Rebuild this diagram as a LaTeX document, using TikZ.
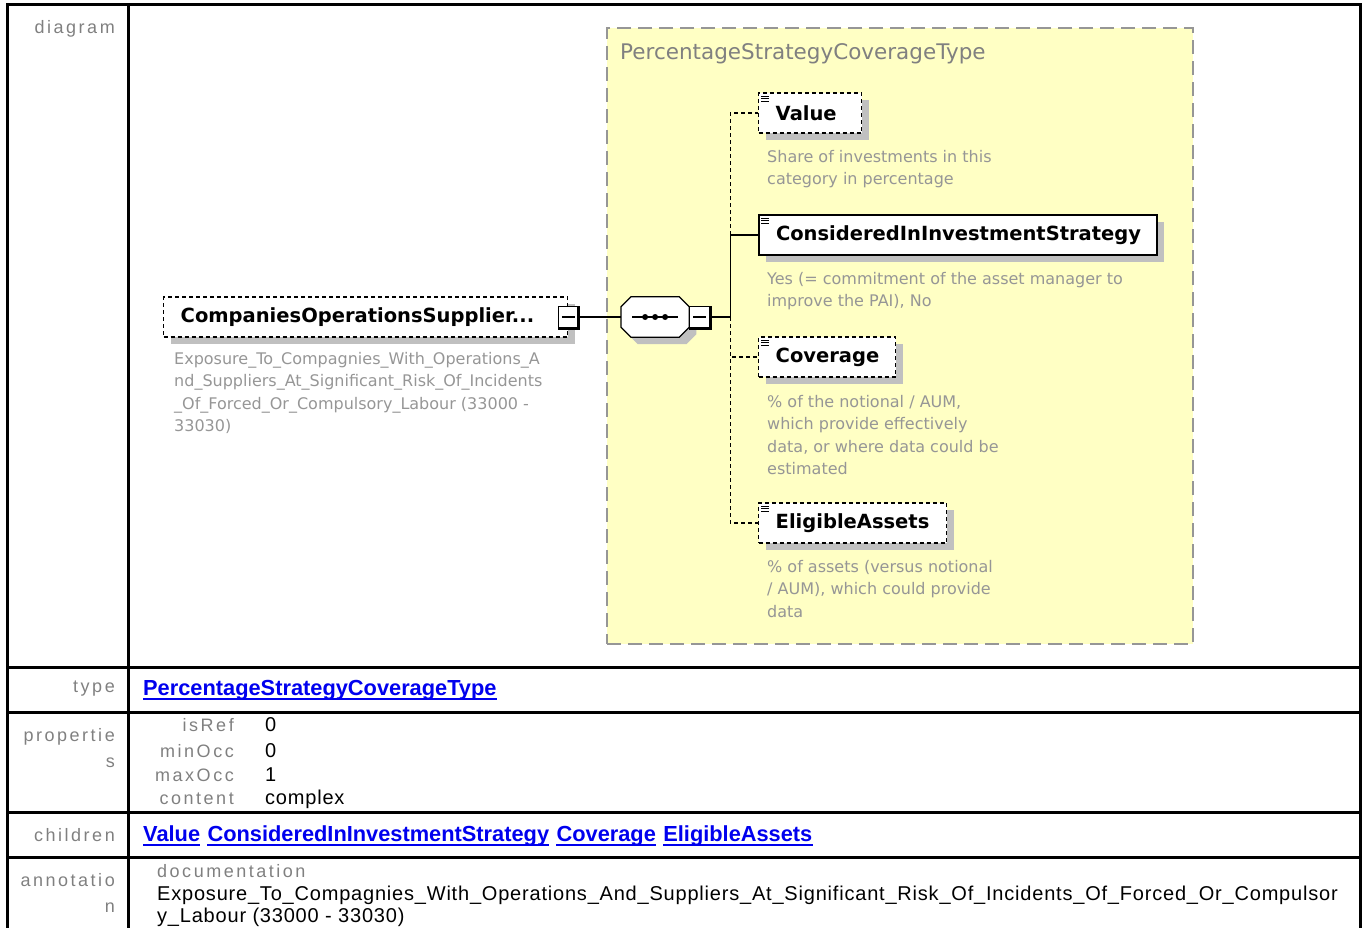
\documentclass[tikz,border=0pt]{standalone}
\usepackage{fontspec}
\setmainfont{Liberation Sans}
\newfontfamily\schemafont{DejaVu Sans}
\newfontfamily\labelfont[LetterSpace=14]{Liberation Sans}
\newfontfamily\bodyfont[LetterSpace=4]{Liberation Sans}
\usetikzlibrary{shadows, positioning, calc}

\definecolor{typefill}{RGB}{255,255,196}
\definecolor{typedash}{RGB}{150,150,150}
\definecolor{shadegray}{RGB}{192,192,192}
\definecolor{notegray}{RGB}{150,150,150}
\definecolor{labelgray}{RGB}{128,128,128}
\definecolor{linkblue}{RGB}{0,0,238}

\tikzset{
  elem/.style={rectangle, draw=black, line width=1.4pt, dash pattern=on 4pt off 3pt, fill=white,
    minimum height=40pt, inner xsep=17pt, inner ysep=0pt, align=left,
    font=\schemafont\bfseries\fontsize{19.5}{22}\selectfont,
    drop shadow={shadow xshift=7pt, shadow yshift=-7pt, fill=shadegray, opacity=1, draw=none}},
  reqelem/.style={elem, solid, line width=2pt},
  seqbox/.style={rectangle, minimum width=68pt, minimum height=40pt, inner sep=0pt},
  seqshade/.style={fill=shadegray},
  seqline/.style={draw=black, line width=1.2pt, fill=white},
  minusbox/.style={rectangle, draw=black, line width=1pt, fill=white,
    minimum width=20pt, minimum height=21pt, inner sep=0pt},
  typearea/.style={rectangle, draw=typedash, line width=2pt, dash pattern=on 14pt off 7pt,
    fill=typefill, minimum width=586pt, minimum height=616pt, inner sep=0pt},
  typetitle/.style={inner sep=0pt, text=labelgray, font=\schemafont\fontsize{21.5}{24}\selectfont},
  note/.style={anchor=north west, inner sep=0pt, align=left, text=notegray,
    font=\schemafont\fontsize{16}{22.5}\selectfont},
  conn/.style={draw=black, line width=1.4pt},
  optconn/.style={conn, dash pattern=on 4pt off 3pt},
  tableline/.style={draw=black, line width=3pt},
  rowlabel/.style={anchor=east, inner sep=0pt, align=right, text=labelgray,
    font=\labelfont\fontsize{18}{26}\selectfont},
  proplabel/.style={rowlabel},
  propvalue/.style={anchor=west, inner sep=0pt, font=\bodyfont\fontsize{20}{22}\selectfont},
  link/.style={anchor=west, inner sep=0pt, text=linkblue, text height=16pt, text depth=4pt,
    font=\bfseries\fontsize{21.8}{24}\selectfont},
  linkline/.style={draw=linkblue, line width=1.5pt},
  annottext/.style={anchor=west, inner sep=0pt, align=left, font=\bodyfont\fontsize{20}{22}\selectfont},
}

\begin{document}
\begin{tikzpicture}[x=1pt, y=-1pt]
  \useasboundingbox (0,0) rectangle (1364,928);

  % table frame
  \draw[tableline] (7,928) -- (7,5) -- (1360,5) -- (1360,928);
  \draw[tableline] (128,5) -- (128,928);
  \foreach \y in {667,712,812,857}
    \draw[tableline] (7,\y) -- (1360,\y);

  % complex type area
  \node[typearea, anchor=north west] (typebox) at (606,27) {};
  \node[typetitle, anchor=west] (typename) at (620,54) {PercentageStrategyCoverageType};

  % root element and sequence
  \node[elem, text width=370pt, anchor=west] (root) at (163,317) {CompaniesOperationsSupplier...};
  \node[minusbox] (rootminus) at (root.east) {};
  \node[seqbox, right=42pt of rootminus] (seq) {};
  \foreach \s/\sty in {7/seqshade, 0/seqline}
    \path[\sty] ($(seq.north west)+(10+\s,\s)$) -- ($(seq.north east)+(-10+\s,\s)$)
      -- ($(seq.north east)+(\s,10+\s)$) -- ($(seq.south east)+(\s,-10+\s)$)
      -- ($(seq.south east)+(-10+\s,\s)$) -- ($(seq.south west)+(10+\s,\s)$)
      -- ($(seq.south west)+(\s,-10+\s)$) -- ($(seq.north west)+(\s,10+\s)$) -- cycle;
  \node[minusbox, right=0pt of seq] (seqminus) {};
  \coordinate[right=20pt of seqminus] (trunk);

  % child elements
  \node[elem, text width=69pt, anchor=west] (value) at (758,113) {Value};
  \node[reqelem, text width=364pt, anchor=west] (considered) at (758,235) {ConsideredInInvestmentStrategy};
  \node[elem, text width=103pt, anchor=west] (coverage) at (758,357) {Coverage};
  \node[elem, text width=154pt, anchor=west] (eligible) at (758,523) {EligibleAssets};

  \draw[conn] (rootminus) -- (seq);
  \draw[conn] (seqminus) -- (trunk);
  \draw[conn] (trunk) |- (considered);
  \draw[optconn] (trunk |- considered.west) |- (value);
  \draw[optconn] (trunk) |- (coverage);
  \draw[optconn] (trunk) |- (eligible);

  \foreach \m in {rootminus, seqminus} {
    \draw[line width=1.2pt] ($(\m.west)+(4,0)$) -- ($(\m.east)+(-4,0)$);
    \draw[line width=3pt] (\m.north east) -- (\m.south east) -- (\m.south west);
  }
  \draw[line width=1.5pt] ($(seq.center)+(-23,0)$) -- ($(seq.center)+(23,0)$);
  \foreach \dx in {-10,0,10}
    \fill ($(seq.center)+(\dx,0)$) circle (3pt);
  \foreach \n in {value, considered, coverage, eligible}
    \foreach \dy in {4,6.5,9}
      \draw[line width=1pt] ($(\n.north west)+(3,\dy)$) -- ++(8,0);

  % documentation under the boxes
  \node[note] (rootnote) at (174,352) {Exposure\_To\_Compagnies\_With\_Operations\_A\\nd\_Suppliers\_At\_Significant\_Risk\_Of\_Incidents\\\_Of\_Forced\_Or\_Compulsory\_Labour (33000 -\\33030)};
  \node[note] (valuenote) at (767,150) {Share of investments in this\\category in percentage};
  \node[note] (considerednote) at (767,272) {Yes (= commitment of the asset manager to\\improve the PAI), No};
  \node[note] (coveragenote) at (767,395) {\% of the notional / AUM,\\which provide effectively\\data, or where data could be\\estimated};
  \node[note] (eligiblenote) at (767,560) {\% of assets (versus notional\\/ AUM), which could provide\\data};

  % table rows
  \node[rowlabel] (diagramlabel) at (115,29) {diagram};
  \node[rowlabel] (typelabel) at (115,689) {type};
  \node[rowlabel] (proplabel) at (115,748) {propertie\\s};
  \node[rowlabel] (childlabel) at (115,835) {children};
  \node[rowlabel] (annotlabel) at (115,893) {annotatio\\n};

  \node[link] (typelink) at (143,689) {PercentageStrategyCoverageType};
  \foreach \key/\val/\y in {isRef/0/725, minOcc/0/751, maxOcc/1/775, content/complex/799} {
    \node[proplabel] (key\key) at (234,\y) {\key};
    \node[propvalue] (val\key) at (265,\y) {\val};
  }
  \node[link] (childvalue) at (143,835) {Value};
  \node[link, right=7pt of childvalue] (childconsidered) {ConsideredInInvestmentStrategy};
  \node[link, right=7pt of childconsidered] (childcoverage) {Coverage};
  \node[link, right=7pt of childcoverage] (childeligible) {EligibleAssets};
  \foreach \l in {typelink, childvalue, childconsidered, childcoverage, childeligible}
    \draw[linkline] (\l.south west) -- (\l.south east);

  \node[proplabel, anchor=west] (doclabel) at (157,871) {documentation};
  \node[annottext] (doctext) at (157,906) {Exposure\_To\_Compagnies\_With\_Operations\_And\_Suppliers\_At\_Significant\_Risk\_Of\_Incidents\_Of\_Forced\_Or\_Compulsor\\y\_Labour (33000 - 33030)};
\end{tikzpicture}
\end{document}
